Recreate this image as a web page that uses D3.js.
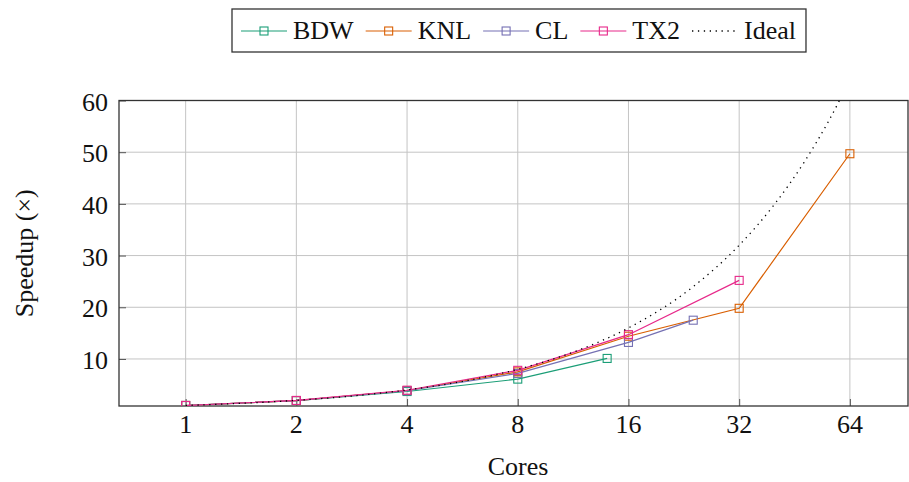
<!DOCTYPE html>
<html>
<head>
<meta charset="utf-8">
<script src="https://cdn.jsdelivr.net/npm/d3@7"></script>
<style>
  html, body { margin: 0; padding: 0; background: #fff; }
  svg { display: block; }
  text { font-family: "Liberation Serif", "Times New Roman", serif; fill: #111; }
</style>
</head>
<body>
<svg id="chart" width="909" height="482"></svg>
<script>
// Strong-scaling speedup per platform (cores -> speedup)
const xTicks = [1, 2, 4, 8, 16, 32, 64];
const yTicks = [10, 20, 30, 40, 50, 60];

const bdwCores = [1, 2, 4, 8, 14];
const bdwSpeedup = [1, 1.95, 3.7, 6.1, 10.1];

const knlCores = [1, 2, 4, 8, 16, 32, 64];
const knlSpeedup = [1, 1.95, 3.9, 7.5, 14.4, 19.8, 49.7];

const clCores = [1, 2, 4, 8, 16, 24];
const clSpeedup = [1, 1.95, 3.85, 7.2, 13.2, 17.5];

const tx2Cores = [1, 2, 4, 8, 16, 32];
const tx2Speedup = [1, 1.98, 3.95, 7.8, 14.7, 25.2];

// Ideal (linear) speedup
const idealCores = [1, 2, 3, 4, 6, 8, 12, 16, 24, 32, 40, 48, 56, 64];
const idealSpeedup = [1, 2, 3, 4, 6, 8, 12, 16, 24, 32, 40, 48, 56, 64];

const seriesNames = ["BDW", "KNL", "CL", "TX2", "Ideal"];
const seriesColors = ["#1b9e77", "#d95f02", "#7570b3", "#e7298a", "#000000"];

const series = [
  { name: "BDW", cores: bdwCores, speedup: bdwSpeedup },
  { name: "KNL", cores: knlCores, speedup: knlSpeedup },
  { name: "CL", cores: clCores, speedup: clSpeedup },
  { name: "TX2", cores: tx2Cores, speedup: tx2Speedup }
];

const svg = d3.select("#chart");
const plot = { left: 119, right: 908, top: 100.5, bottom: 406 };

const x = d3.scaleLog().base(2)
  .domain([Math.pow(2, -0.602), Math.pow(2, 6.525)])
  .range([plot.left, plot.right]);
const y = d3.scaleLinear()
  .domain([0.9, 60])
  .range([plot.bottom, plot.top]);

const color = d3.scaleOrdinal().domain(seriesNames).range(seriesColors);

// grid
const grid = svg.append("g");
grid.selectAll("line.gx").data(xTicks).join("line")
  .attr("x1", d => x(d)).attr("x2", d => x(d))
  .attr("y1", plot.top).attr("y2", plot.bottom)
  .attr("stroke", "#c4c4c4").attr("stroke-width", 1);
grid.selectAll("line.gy").data(yTicks).join("line")
  .attr("x1", plot.left).attr("x2", plot.right)
  .attr("y1", d => y(d)).attr("y2", d => y(d))
  .attr("stroke", "#c4c4c4").attr("stroke-width", 1);

// axes (ticks pointing inward, labels drawn separately)
const xAxis = d3.axisBottom(x).tickValues(xTicks).tickSize(-7).tickFormat("");
const yAxis = d3.axisLeft(y).tickValues(yTicks).tickSize(-7).tickFormat("");
const gx = svg.append("g").attr("transform", `translate(0,${plot.bottom})`).call(xAxis);
const gy = svg.append("g").attr("transform", `translate(${plot.left},0)`).call(yAxis);
[gx, gy].forEach(g => {
  g.select(".domain").remove();
  g.selectAll(".tick line").attr("stroke", "#555").attr("stroke-width", 1);
});

// frame
svg.append("rect")
  .attr("x", plot.left).attr("y", plot.top)
  .attr("width", plot.right - plot.left).attr("height", plot.bottom - plot.top)
  .attr("fill", "none").attr("stroke", "#333").attr("stroke-width", 1.3);

// tick labels
svg.append("g").selectAll("text").data(xTicks).join("text")
  .attr("x", d => x(d)).attr("y", 433)
  .attr("text-anchor", "middle").attr("font-size", 26)
  .text(d => d);
svg.append("g").selectAll("text").data(yTicks).join("text")
  .attr("x", 108).attr("y", d => y(d) + 10)
  .attr("text-anchor", "end").attr("font-size", 26)
  .text(d => d);

// axis titles
svg.append("text")
  .attr("x", 518).attr("y", 475)
  .attr("text-anchor", "middle").attr("font-size", 26)
  .text("Cores");
svg.append("text")
  .attr("transform", `translate(33,${(plot.top + plot.bottom) / 2}) rotate(-90)`)
  .attr("text-anchor", "middle").attr("font-size", 26)
  .text("Speedup (×)");

// clip to plot area
svg.append("clipPath").attr("id", "clip")
  .append("rect")
  .attr("x", plot.left).attr("y", plot.top)
  .attr("width", plot.right - plot.left).attr("height", plot.bottom - plot.top);

const marks = svg.append("g").attr("clip-path", "url(#clip)");
const line = d3.line().x(d => x(d[0])).y(d => y(d[1]));
const ms = 8;

series.forEach(s => {
  const pts = s.cores.map((c, i) => [c, s.speedup[i]]);
  const g = marks.append("g");
  g.append("path").datum(pts)
    .attr("d", line)
    .attr("fill", "none")
    .attr("stroke", color(s.name)).attr("stroke-width", 1.2);
  g.selectAll("rect").data(pts).join("rect")
    .attr("x", d => x(d[0]) - ms / 2).attr("y", d => y(d[1]) - ms / 2)
    .attr("width", ms).attr("height", ms)
    .attr("fill", "none")
    .attr("stroke", color(s.name)).attr("stroke-width", 1.1);
});

// ideal curve
const idealPts = idealCores.map((c, i) => [c, idealSpeedup[i]]);
marks.append("path").datum(idealPts)
  .attr("d", d3.line().x(d => x(d[0])).y(d => y(d[1])).curve(d3.curveMonotoneX))
  .attr("fill", "none")
  .attr("stroke", "#000").attr("stroke-width", 1.3)
  .attr("stroke-dasharray", "1.3 4.6");

// legend
const legend = svg.append("g");
const legY = 31, sampleLen = 46, textGap = 6, itemGap = 12;
let cx = 241;
seriesNames.forEach(name => {
  const col = color(name);
  const g = legend.append("g");
  const ln = g.append("line")
    .attr("x1", cx).attr("x2", cx + sampleLen)
    .attr("y1", legY).attr("y2", legY)
    .attr("stroke", col).attr("stroke-width", 1.2);
  if (name === "Ideal") {
    ln.attr("stroke-dasharray", "1.3 4.6").attr("stroke-width", 1.3);
  } else {
    g.append("rect")
      .attr("x", cx + sampleLen / 2 - ms / 2).attr("y", legY - ms / 2)
      .attr("width", ms).attr("height", ms)
      .attr("fill", "none").attr("stroke", col).attr("stroke-width", 1.1);
  }
  const t = g.append("text")
    .attr("x", cx + sampleLen + textGap).attr("y", 38.5)
    .attr("font-size", 26)
    .text(name);
  cx += sampleLen + textGap + t.node().getComputedTextLength() + itemGap;
});
legend.insert("rect", ":first-child")
  .attr("x", 232).attr("y", 9)
  .attr("width", cx - itemGap + 10 - 232).attr("height", 43)
  .attr("fill", "#fff").attr("stroke", "#333").attr("stroke-width", 1.3);
</script>
</body>
</html>
